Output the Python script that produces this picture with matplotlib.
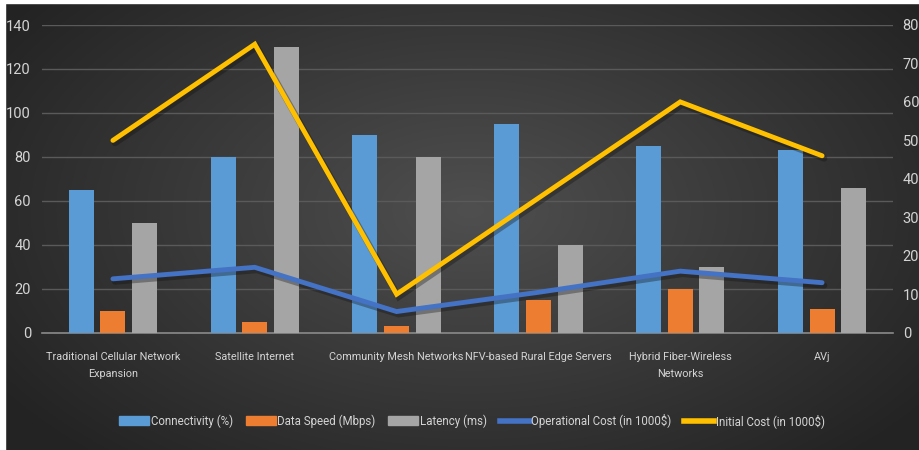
import numpy as np
import matplotlib
matplotlib.use("Agg")
import matplotlib.pyplot as plt
from matplotlib.lines import Line2D
from matplotlib.patches import Patch, Rectangle

categories = ["Traditional Cellular Network\nExpansion", "Satellite Internet",
              "Community Mesh Networks", "NFV-based Rural Edge Servers",
              "Hybrid Fiber-Wireless\nNetworks", "AVj"]
connectivity = [65, 80, 90, 95, 85, 83]
data_speed = [10, 5, 3, 15, 20, 11]
latency = [50, 130, 80, 40, 30, 66]
operational_cost = [140, 170, 55, 105, 160, 130]
initial_cost = [500, 750, 100, 350, 600, 460]
left_ticks = [0, 20, 40, 60, 80, 100, 120, 140]
right_ticks = [0, 100, 200, 300, 400, 500, 600, 700, 800]

plt.rcParams['font.family'] = ['Roboto', 'DejaVu Sans']
txt = '#d4d4d4'

fig = plt.figure(figsize=(9.2, 4.5), dpi=100)

bg = fig.add_axes([0, 0, 1, 1], zorder=-10)
yy, xx = np.mgrid[0:450, 0:920]
r = np.sqrt(((xx - 470) / 560.0) ** 2 + ((yy - 210) / 330.0) ** 2)
val = np.clip(0.31 - 0.17 * r, 0.14, 0.31)
bg.imshow(np.dstack([val, val, val]), aspect='auto', extent=[0, 920, 450, 0])
bg.add_patch(Rectangle((0, 0), 5, 450, color='white'))
bg.add_patch(Rectangle((0, 0), 920, 3, color='white'))
bg.set_xlim(0, 920)
bg.set_ylim(450, 0)
bg.axis('off')

ax = fig.add_axes([42 / 920, 1 - 332.7 / 450, 851 / 920, (332.7 - 25) / 450])
ax.patch.set_alpha(0)
x = np.arange(len(categories))
w = 0.176
off = 0.223
ax.bar(x - off, connectivity, w, color='#5B9BD5', zorder=3)
ax.bar(x, data_speed, w, color='#ED7D31', zorder=3)
ax.bar(x + off, latency, w, color='#A5A5A5', zorder=3)
ax.set_ylim(0, 140)
ax.set_xlim(-0.5, len(categories) - 0.5)
ax.set_yticks(left_ticks)
ax.yaxis.grid(True, color='#5a5a5a', lw=1, zorder=0)
ax.set_axisbelow(True)
for s in ['top', 'right', 'left']:
    ax.spines[s].set_visible(False)
ax.spines['bottom'].set_color('#8a8a8a')
ax.spines['bottom'].set_linewidth(1.2)
ax.tick_params(axis='y', length=0, colors=txt, pad=8, labelsize=10.5)
ax.tick_params(axis='x', length=0, colors=txt, pad=14, labelsize=9)
ax.set_xticks(x)
ax.set_xticklabels(categories, linespacing=1.9)

ax2 = ax.twinx()
ax2.set_ylim(0, 800)
ax2.set_yticks(right_ticks)
for s in ax2.spines.values():
    s.set_visible(False)
ax2.tick_params(axis='y', length=0, colors=txt, pad=7, labelsize=10.5)
shadow = matplotlib.transforms.ScaledTranslation(1.5 / 72, -2 / 72, fig.dpi_scale_trans)
for data, col in [(operational_cost, '#4472C4'), (initial_cost, '#FFC000')]:
    ax2.plot(x, data, color='#111111', lw=4.5, alpha=0.35, zorder=4,
             solid_capstyle='round', solid_joinstyle='miter',
             transform=ax2.transData + shadow)
    ax2.plot(x, data, color=col, lw=3.5, zorder=5, solid_capstyle='round', solid_joinstyle='miter')

# shrink x labels until neighbours no longer collide
renderer = fig.canvas.get_renderer()
size = 9.0
for _ in range(20):
    labs = ax.get_xticklabels()
    widths = [t.get_window_extent(renderer).width for t in labs]
    worst = max((widths[i] + widths[i + 1]) / 2 for i in range(len(widths) - 1))
    if worst <= 141:
        break
    size -= 0.2
    for t in labs:
        t.set_fontsize(size)

handles = [Patch(color='#5B9BD5'), Patch(color='#ED7D31'), Patch(color='#A5A5A5'),
           Line2D([], [], color='#4472C4', lw=4), Line2D([], [], color='#FFC000', lw=4)]
labels = ['Connectivity (%)', 'Data Speed (Mbps)', 'Latency (ms)',
          'Operational Cost (in 1000$)', 'Initial Cost (in 1000$)']
leg = fig.legend(handles, labels, loc='center', bbox_to_anchor=(0.513, 0.065), ncol=5,
                 frameon=False, fontsize=8.3, handlelength=2.6, handleheight=0.8,
                 handletextpad=0.15, columnspacing=1.1, labelcolor=txt)

fig.savefig('out.png', dpi=100)
